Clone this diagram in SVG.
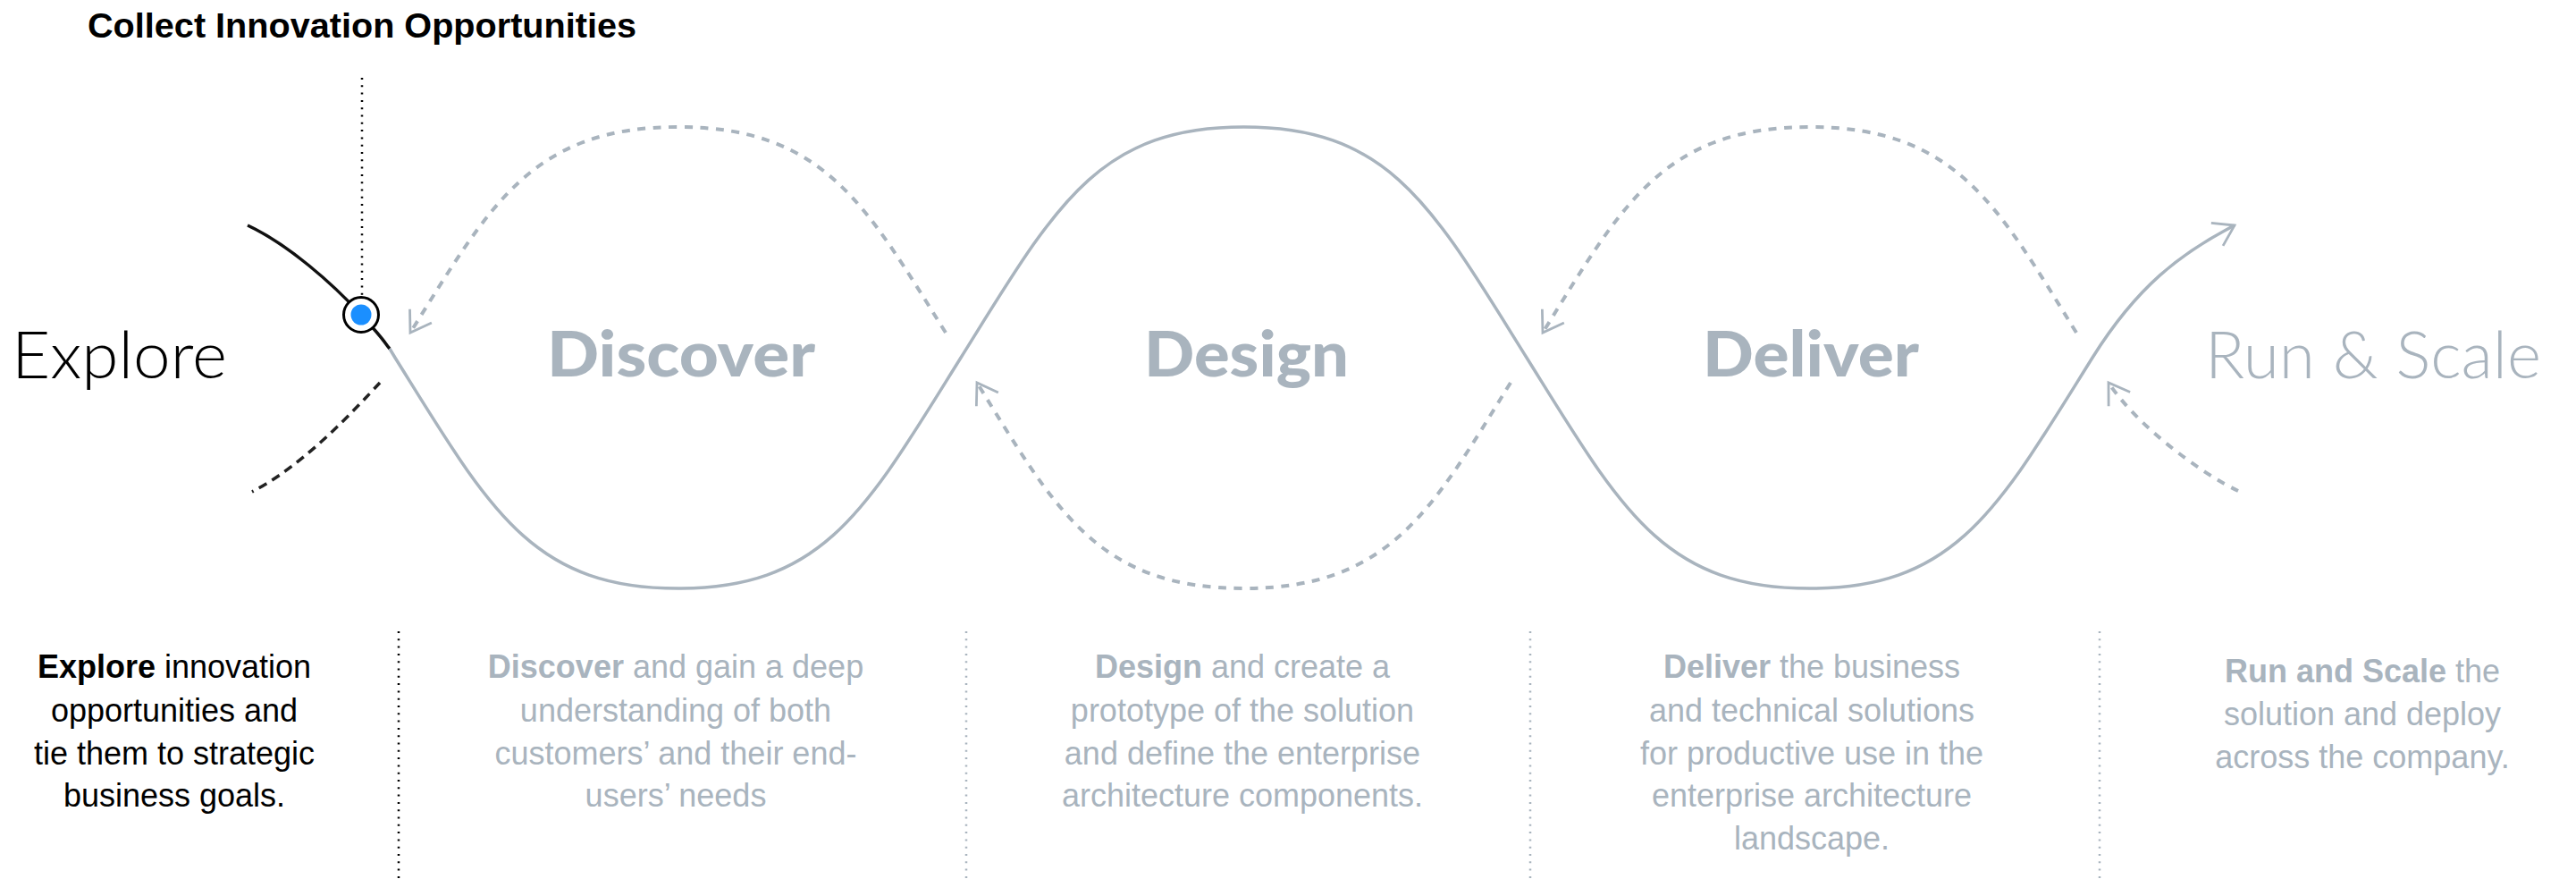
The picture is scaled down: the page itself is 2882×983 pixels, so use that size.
<svg xmlns="http://www.w3.org/2000/svg" width="2882" height="983" viewBox="0 0 2882 983">
<style>
.gray{fill:#A9B4BE}
.blk{fill:#000}
.hdr{font-family:"Liberation Sans",Arial,sans-serif;font-size:70px}
.hb{font-family:Lato,"Liberation Sans",Arial,sans-serif;font-weight:900;font-size:70px}
.hl{font-family:Lato,"Liberation Sans",Arial,sans-serif;font-weight:300;font-size:72px}
.b{font-weight:700}
.body{font-family:"Liberation Sans",Arial,sans-serif;font-size:36px;text-anchor:middle}
.wave{fill:none;stroke:#A9B4BE;stroke-width:3.5}
.dash{fill:none;stroke:#A9B4BE;stroke-width:4;stroke-dasharray:9 8.5}
.dot{fill:none;stroke-width:2.5;stroke-dasharray:2 6.3}
</style>
<defs>
<marker id="chev" markerUnits="userSpaceOnUse" orient="auto" markerWidth="40" markerHeight="40" viewBox="-35 -25 40 50" refX="0" refY="0" overflow="visible">
<path d="M-27.5,-18 L0,0 L-27.5,18" fill="none" stroke="#A9B4BE" stroke-width="3.5"/>
</marker>
</defs>
<rect width="2882" height="983" fill="#fff"/>

<g id="title">
<text x="98" y="42" class="hdr b blk" style="font-size:39px" textLength="614" lengthAdjust="spacingAndGlyphs">Collect Innovation Opportunities</text>
</g>

<g id="connectors">
<line x1="405" y1="87" x2="405" y2="330" class="dot" stroke="#000"/>
<line x1="446" y1="706" x2="446" y2="982" class="dot" stroke="#000"/>
<line x1="1081" y1="706" x2="1081" y2="982" class="dot" stroke="#A9B4BE"/>
<line x1="1712" y1="706" x2="1712" y2="982" class="dot" stroke="#A9B4BE"/>
<line x1="2349" y1="706" x2="2349" y2="982" class="dot" stroke="#A9B4BE"/>
<path d="M277,252 C322,273 372,317 404,352 S428,381 436,390" fill="none" stroke="#111" stroke-width="3.5"/>
<path d="M425,428 C395,460 340,520 282,550" fill="none" stroke="#222" stroke-width="3.5" stroke-dasharray="10 7"/>
<path class="wave" marker-end="url(#chev)" d="M436,390 L442,400 C547,568 593.5,658 758.5,658 C923.5,658 970,568 1075,400 C1180,232 1226.5,142 1391.5,142 C1556.5,142 1603,232 1708,400 C1813,568 1859.5,658 2024.5,658 C2189.5,658 2236,568 2341,400 C2391,320 2440,283 2500,252"/>
<path class="dash" marker-end="url(#chev)" d="M1058,372 C970,232 923.5,142 758.5,142 C593.5,142 547,232 459,372"/>
<path class="dash" marker-end="url(#chev)" d="M1690,428 C1603,568 1556.5,658 1391.5,658 C1226.5,658 1180,568 1093,428"/>
<path class="dash" marker-end="url(#chev)" d="M2323,372 C2236,232 2189.5,142 2024.5,142 C1859.5,142 1813,232 1726,372"/>
<path class="dash" marker-end="url(#chev)" d="M2504,549 C2460,528 2390,475 2359,428"/>
</g>

<g id="marker-point">
<circle cx="404" cy="352" r="19.5" fill="#fff" stroke="#000" stroke-width="3"/>
<circle cx="404" cy="352" r="11.5" fill="#1B8FFF"/>
</g>

<g id="explore">
<text x="13" y="423" class="hl blk" textLength="241" lengthAdjust="spacingAndGlyphs">Explore</text>
<text class="body blk"><tspan x="195" y="758"><tspan class="b">Explore</tspan> innovation</tspan><tspan x="195" y="807">opportunities and</tspan><tspan x="195" y="855">tie them to strategic</tspan><tspan x="195" y="902">business goals.</tspan></text>
</g>

<g id="discover">
<text x="612" y="421" class="hb gray" textLength="300" lengthAdjust="spacingAndGlyphs">Discover</text>
<text class="body gray"><tspan x="756" y="758"><tspan class="b">Discover</tspan> and gain a deep</tspan><tspan x="756" y="807">understanding of both</tspan><tspan x="756" y="855">customers’ and their end-</tspan><tspan x="756" y="902">users’ needs</tspan></text>
</g>

<g id="design">
<text x="1280" y="421" class="hb gray" textLength="229" lengthAdjust="spacingAndGlyphs">Design</text>
<text class="body gray"><tspan x="1390" y="758"><tspan class="b">Design</tspan> and create a</tspan><tspan x="1390" y="807">prototype of the solution</tspan><tspan x="1390" y="855">and define the enterprise</tspan><tspan x="1390" y="902">architecture components.</tspan></text>
</g>

<g id="deliver">
<text x="1905" y="421" class="hb gray" textLength="242" lengthAdjust="spacingAndGlyphs">Deliver</text>
<text class="body gray"><tspan x="2027" y="758"><tspan class="b">Deliver</tspan> the business</tspan><tspan x="2027" y="807">and technical solutions</tspan><tspan x="2027" y="855">for productive use in the</tspan><tspan x="2027" y="902">enterprise architecture</tspan><tspan x="2027" y="950">landscape.</tspan></text>
</g>

<g id="run-and-scale">
<text x="2467" y="423" class="hl gray" textLength="376" lengthAdjust="spacingAndGlyphs">Run &amp; Scale</text>
<text class="body gray"><tspan x="2643" y="763"><tspan class="b">Run and Scale</tspan> the</tspan><tspan x="2643" y="811">solution and deploy</tspan><tspan x="2643" y="859">across the company.</tspan></text>
</g>
</svg>
